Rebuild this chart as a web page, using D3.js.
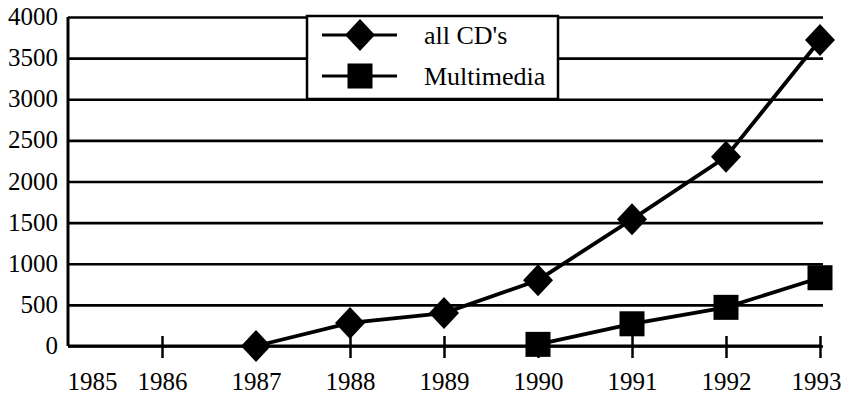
<!DOCTYPE html>
<html>
<head>
<meta charset="utf-8">
<script src="https://cdn.jsdelivr.net/npm/d3@7/dist/d3.min.js"></script>
<style>
  html, body { margin: 0; padding: 0; background: #fff; }
  svg { display: block; }
</style>
</head>
<body>
<svg id="chart" width="842" height="400"></svg>
<script>
const years = [1985, 1986, 1987, 1988, 1989, 1990, 1991, 1992, 1993];
const yTicks = [0, 500, 1000, 1500, 2000, 2500, 3000, 3500, 4000];
const seriesNames = ["all CD's", "Multimedia"];
const allCdYears = [1987, 1988, 1989, 1990, 1991, 1992, 1993];
const allCdValues = [0, 280, 400, 800, 1540, 2300, 3720];
const multimediaYears = [1990, 1991, 1992, 1993];
const multimediaValues = [20, 270, 470, 830];

(function () {
const FONT = "'Liberation Serif', 'DejaVu Serif', 'Times New Roman', serif";
const svg = d3.select("#chart").attr("font-family", FONT);
const mLeft = 68, mRight = 820, mTop = 17, mBottom = 346;

const x = d3.scaleLinear().domain([1985, 1993]).range([mLeft, mRight]);
const y = d3.scaleLinear().domain([0, 4000]).range([mBottom, mTop]);

// gridlines + y axis
const yAxis = svg.append("g")
  .attr("transform", `translate(${mLeft},0)`)
  .call(d3.axisLeft(y).tickValues(yTicks).tickSize(-(mRight + 3 - mLeft)).tickPadding(10).tickFormat(d3.format("d")))
  .attr("font-family", FONT);
yAxis.select(".domain").attr("stroke", "#000").attr("stroke-width", 3)
  .attr("d", `M0,${mTop}V${mBottom}`);
yAxis.selectAll(".tick line").attr("stroke", "#000").attr("stroke-width", 2.6);
yAxis.selectAll(".tick text").attr("font-size", 25).attr("dy", "0.3em").attr("fill", "#000");

// x axis
const xAxis = svg.append("g")
  .attr("transform", `translate(0,${mBottom})`)
  .call(d3.axisBottom(x).tickValues(years).tickSize(12).tickPadding(14).tickFormat(d3.format("d")))
  .attr("font-family", FONT);
xAxis.select(".domain").attr("stroke", "#000").attr("stroke-width", 3)
  .attr("d", `M${mLeft},0H${mRight}`);
xAxis.selectAll(".tick line").attr("stroke", "#000").attr("stroke-width", 2.5).attr("y1", -10)
  .filter(d => d === 1985).remove();
const xt = xAxis.selectAll(".tick text").attr("font-size", 25).attr("fill", "#000");
xt.filter(d => d === 1985).attr("text-anchor", "start").attr("dx", -1);
xt.filter(d => d === 1993).attr("text-anchor", "end").attr("dx", 21);

const line = d3.line().x(d => x(d[0])).y(d => y(d[1]));
const cdData = allCdYears.map((yr, i) => [yr, allCdValues[i]]);
const mmData = multimediaYears.map((yr, i) => [yr, multimediaValues[i]]);

const diamond = 16, sq = 25;

function drawDiamond(g, cx, cy) {
  g.append("path")
    .attr("d", `M${cx},${cy - diamond}L${cx + diamond - 1},${cy}L${cx},${cy + diamond}L${cx - diamond + 1},${cy}Z`)
    .attr("fill", "#000");
}
function drawSquare(g, cx, cy) {
  g.append("rect").attr("x", cx - sq / 2).attr("y", cy - sq / 2)
    .attr("width", sq).attr("height", sq).attr("fill", "#000");
}

svg.append("path").datum(cdData).attr("d", line)
  .attr("fill", "none").attr("stroke", "#000").attr("stroke-width", 3.8);
svg.append("path").datum(mmData).attr("d", line)
  .attr("fill", "none").attr("stroke", "#000").attr("stroke-width", 3.8);

const marks = svg.append("g");
cdData.forEach(d => drawDiamond(marks, x(d[0]), y(d[1])));
mmData.forEach(d => drawSquare(marks, x(d[0]), y(d[1])));

// legend
const lg = svg.append("g");
lg.append("rect").attr("x", 307).attr("y", 16).attr("width", 251).attr("height", 83)
  .attr("fill", "#fff").attr("stroke", "#000").attr("stroke-width", 2.5);
const rows = [35, 76];
seriesNames.forEach((name, i) => {
  const ry = rows[i];
  lg.append("line").attr("x1", 322).attr("x2", 397).attr("y1", ry).attr("y2", ry)
    .attr("stroke", "#000").attr("stroke-width", 3);
  if (i === 0) drawDiamond(lg, 360, ry); else drawSquare(lg, 360, ry);
  lg.append("text").attr("x", 424).attr("y", ry + 9).attr("font-size", 26)
    .attr("font-family", FONT).attr("fill", "#000").text(name);
});
})();
</script>
</body>
</html>
